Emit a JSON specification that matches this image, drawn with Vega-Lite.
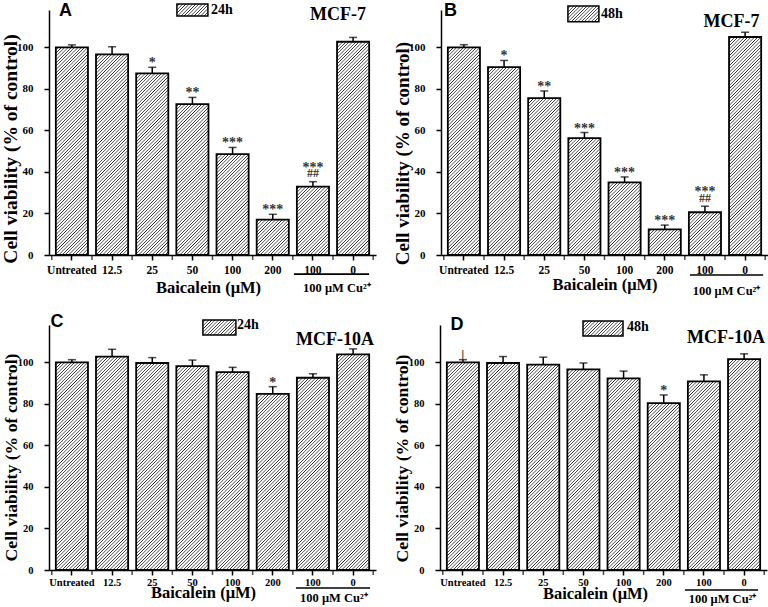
{
  "$schema": "https://vega.github.io/schema/vega-lite/v6.json",
  "background": "white",
  "padding": {"left": 0, "top": 1, "right": 0, "bottom": 0},
  "params": [{"name": "hatch", "value": [
{"offset":0,"color":"#fff"},{"offset":0.005,"color":"#fff"},{"offset":0.0075,"color":"#222"},
{"offset":0.01,"color":"#fff"},{"offset":0.015,"color":"#fff"},{"offset":0.0175,"color":"#222"},
{"offset":0.02,"color":"#fff"},{"offset":0.025,"color":"#fff"},{"offset":0.0275,"color":"#222"},
{"offset":0.03,"color":"#fff"},{"offset":0.035,"color":"#fff"},{"offset":0.0375,"color":"#222"},
{"offset":0.04,"color":"#fff"},{"offset":0.045,"color":"#fff"},{"offset":0.0475,"color":"#222"},
{"offset":0.05,"color":"#fff"},{"offset":0.055,"color":"#fff"},{"offset":0.0575,"color":"#222"},
{"offset":0.06,"color":"#fff"},{"offset":0.065,"color":"#fff"},{"offset":0.0675,"color":"#222"},
{"offset":0.07,"color":"#fff"},{"offset":0.075,"color":"#fff"},{"offset":0.0775,"color":"#222"},
{"offset":0.08,"color":"#fff"},{"offset":0.085,"color":"#fff"},{"offset":0.0875,"color":"#222"},
{"offset":0.09,"color":"#fff"},{"offset":0.095,"color":"#fff"},{"offset":0.0975,"color":"#222"},
{"offset":0.10,"color":"#fff"},{"offset":0.105,"color":"#fff"},{"offset":0.1075,"color":"#222"},
{"offset":0.11,"color":"#fff"},{"offset":0.115,"color":"#fff"},{"offset":0.1175,"color":"#222"},
{"offset":0.12,"color":"#fff"},{"offset":0.125,"color":"#fff"},{"offset":0.1275,"color":"#222"},
{"offset":0.13,"color":"#fff"},{"offset":0.135,"color":"#fff"},{"offset":0.1375,"color":"#222"},
{"offset":0.14,"color":"#fff"},{"offset":0.145,"color":"#fff"},{"offset":0.1475,"color":"#222"},
{"offset":0.15,"color":"#fff"},{"offset":0.155,"color":"#fff"},{"offset":0.1575,"color":"#222"},
{"offset":0.16,"color":"#fff"},{"offset":0.165,"color":"#fff"},{"offset":0.1675,"color":"#222"},
{"offset":0.17,"color":"#fff"},{"offset":0.175,"color":"#fff"},{"offset":0.1775,"color":"#222"},
{"offset":0.18,"color":"#fff"},{"offset":0.185,"color":"#fff"},{"offset":0.1875,"color":"#222"},
{"offset":0.19,"color":"#fff"},{"offset":0.195,"color":"#fff"},{"offset":0.1975,"color":"#222"},
{"offset":0.20,"color":"#fff"},{"offset":0.205,"color":"#fff"},{"offset":0.2075,"color":"#222"},
{"offset":0.21,"color":"#fff"},{"offset":0.215,"color":"#fff"},{"offset":0.2175,"color":"#222"},
{"offset":0.22,"color":"#fff"},{"offset":0.225,"color":"#fff"},{"offset":0.2275,"color":"#222"},
{"offset":0.23,"color":"#fff"},{"offset":0.235,"color":"#fff"},{"offset":0.2375,"color":"#222"},
{"offset":0.24,"color":"#fff"},{"offset":0.245,"color":"#fff"},{"offset":0.2475,"color":"#222"},
{"offset":0.25,"color":"#fff"},{"offset":0.255,"color":"#fff"},{"offset":0.2575,"color":"#222"},
{"offset":0.26,"color":"#fff"},{"offset":0.265,"color":"#fff"},{"offset":0.2675,"color":"#222"},
{"offset":0.27,"color":"#fff"},{"offset":0.275,"color":"#fff"},{"offset":0.2775,"color":"#222"},
{"offset":0.28,"color":"#fff"},{"offset":0.285,"color":"#fff"},{"offset":0.2875,"color":"#222"},
{"offset":0.29,"color":"#fff"},{"offset":0.295,"color":"#fff"},{"offset":0.2975,"color":"#222"},
{"offset":0.30,"color":"#fff"},{"offset":0.305,"color":"#fff"},{"offset":0.3075,"color":"#222"},
{"offset":0.31,"color":"#fff"},{"offset":0.315,"color":"#fff"},{"offset":0.3175,"color":"#222"},
{"offset":0.32,"color":"#fff"},{"offset":0.325,"color":"#fff"},{"offset":0.3275,"color":"#222"},
{"offset":0.33,"color":"#fff"},{"offset":0.335,"color":"#fff"},{"offset":0.3375,"color":"#222"},
{"offset":0.34,"color":"#fff"},{"offset":0.345,"color":"#fff"},{"offset":0.3475,"color":"#222"},
{"offset":0.35,"color":"#fff"},{"offset":0.355,"color":"#fff"},{"offset":0.3575,"color":"#222"},
{"offset":0.36,"color":"#fff"},{"offset":0.365,"color":"#fff"},{"offset":0.3675,"color":"#222"},
{"offset":0.37,"color":"#fff"},{"offset":0.375,"color":"#fff"},{"offset":0.3775,"color":"#222"},
{"offset":0.38,"color":"#fff"},{"offset":0.385,"color":"#fff"},{"offset":0.3875,"color":"#222"},
{"offset":0.39,"color":"#fff"},{"offset":0.395,"color":"#fff"},{"offset":0.3975,"color":"#222"},
{"offset":0.40,"color":"#fff"},{"offset":0.405,"color":"#fff"},{"offset":0.4075,"color":"#222"},
{"offset":0.41,"color":"#fff"},{"offset":0.415,"color":"#fff"},{"offset":0.4175,"color":"#222"},
{"offset":0.42,"color":"#fff"},{"offset":0.425,"color":"#fff"},{"offset":0.4275,"color":"#222"},
{"offset":0.43,"color":"#fff"},{"offset":0.435,"color":"#fff"},{"offset":0.4375,"color":"#222"},
{"offset":0.44,"color":"#fff"},{"offset":0.445,"color":"#fff"},{"offset":0.4475,"color":"#222"},
{"offset":0.45,"color":"#fff"},{"offset":0.455,"color":"#fff"},{"offset":0.4575,"color":"#222"},
{"offset":0.46,"color":"#fff"},{"offset":0.465,"color":"#fff"},{"offset":0.4675,"color":"#222"},
{"offset":0.47,"color":"#fff"},{"offset":0.475,"color":"#fff"},{"offset":0.4775,"color":"#222"},
{"offset":0.48,"color":"#fff"},{"offset":0.485,"color":"#fff"},{"offset":0.4875,"color":"#222"},
{"offset":0.49,"color":"#fff"},{"offset":0.495,"color":"#fff"},{"offset":0.4975,"color":"#222"},
{"offset":0.50,"color":"#fff"},{"offset":0.505,"color":"#fff"},{"offset":0.5075,"color":"#222"},
{"offset":0.51,"color":"#fff"},{"offset":0.515,"color":"#fff"},{"offset":0.5175,"color":"#222"},
{"offset":0.52,"color":"#fff"},{"offset":0.525,"color":"#fff"},{"offset":0.5275,"color":"#222"},
{"offset":0.53,"color":"#fff"},{"offset":0.535,"color":"#fff"},{"offset":0.5375,"color":"#222"},
{"offset":0.54,"color":"#fff"},{"offset":0.545,"color":"#fff"},{"offset":0.5475,"color":"#222"},
{"offset":0.55,"color":"#fff"},{"offset":0.555,"color":"#fff"},{"offset":0.5575,"color":"#222"},
{"offset":0.56,"color":"#fff"},{"offset":0.565,"color":"#fff"},{"offset":0.5675,"color":"#222"},
{"offset":0.57,"color":"#fff"},{"offset":0.575,"color":"#fff"},{"offset":0.5775,"color":"#222"},
{"offset":0.58,"color":"#fff"},{"offset":0.585,"color":"#fff"},{"offset":0.5875,"color":"#222"},
{"offset":0.59,"color":"#fff"},{"offset":0.595,"color":"#fff"},{"offset":0.5975,"color":"#222"},
{"offset":0.60,"color":"#fff"},{"offset":0.605,"color":"#fff"},{"offset":0.6075,"color":"#222"},
{"offset":0.61,"color":"#fff"},{"offset":0.615,"color":"#fff"},{"offset":0.6175,"color":"#222"},
{"offset":0.62,"color":"#fff"},{"offset":0.625,"color":"#fff"},{"offset":0.6275,"color":"#222"},
{"offset":0.63,"color":"#fff"},{"offset":0.635,"color":"#fff"},{"offset":0.6375,"color":"#222"},
{"offset":0.64,"color":"#fff"},{"offset":0.645,"color":"#fff"},{"offset":0.6475,"color":"#222"},
{"offset":0.65,"color":"#fff"},{"offset":0.655,"color":"#fff"},{"offset":0.6575,"color":"#222"},
{"offset":0.66,"color":"#fff"},{"offset":0.665,"color":"#fff"},{"offset":0.6675,"color":"#222"},
{"offset":0.67,"color":"#fff"},{"offset":0.675,"color":"#fff"},{"offset":0.6775,"color":"#222"},
{"offset":0.68,"color":"#fff"},{"offset":0.685,"color":"#fff"},{"offset":0.6875,"color":"#222"},
{"offset":0.69,"color":"#fff"},{"offset":0.695,"color":"#fff"},{"offset":0.6975,"color":"#222"},
{"offset":0.70,"color":"#fff"},{"offset":0.705,"color":"#fff"},{"offset":0.7075,"color":"#222"},
{"offset":0.71,"color":"#fff"},{"offset":0.715,"color":"#fff"},{"offset":0.7175,"color":"#222"},
{"offset":0.72,"color":"#fff"},{"offset":0.725,"color":"#fff"},{"offset":0.7275,"color":"#222"},
{"offset":0.73,"color":"#fff"},{"offset":0.735,"color":"#fff"},{"offset":0.7375,"color":"#222"},
{"offset":0.74,"color":"#fff"},{"offset":0.745,"color":"#fff"},{"offset":0.7475,"color":"#222"},
{"offset":0.75,"color":"#fff"},{"offset":0.755,"color":"#fff"},{"offset":0.7575,"color":"#222"},
{"offset":0.76,"color":"#fff"},{"offset":0.765,"color":"#fff"},{"offset":0.7675,"color":"#222"},
{"offset":0.77,"color":"#fff"},{"offset":0.775,"color":"#fff"},{"offset":0.7775,"color":"#222"},
{"offset":0.78,"color":"#fff"},{"offset":0.785,"color":"#fff"},{"offset":0.7875,"color":"#222"},
{"offset":0.79,"color":"#fff"}
  ]}],
  "datasets": {
    "A": [
      {"cat": "Untreated", "v": 100, "hi": 101.2, "sig": "", "sig2": ""},
      {"cat": "12.5", "v": 96.6, "hi": 100.3, "sig": "", "sig2": ""},
      {"cat": "25", "v": 87.5, "hi": 90.4, "sig": "*", "sig2": ""},
      {"cat": "50", "v": 72.7, "hi": 75.9, "sig": "**", "sig2": ""},
      {"cat": "100", "v": 48.6, "hi": 51.8, "sig": "***", "sig2": ""},
      {"cat": "200", "v": 17.0, "hi": 19.6, "sig": "***", "sig2": ""},
      {"cat": "100 ", "v": 32.9, "hi": 35.3, "sig": "***", "sig2": "##"},
      {"cat": "0", "v": 102.7, "hi": 104.8, "sig": "", "sig2": ""}
    ],
    "B": [
      {"cat": "Untreated", "v": 100, "hi": 101.3, "sig": "", "sig2": ""},
      {"cat": "12.5", "v": 90.5, "hi": 93.7, "sig": "*", "sig2": ""},
      {"cat": "25", "v": 75.6, "hi": 79.0, "sig": "**", "sig2": ""},
      {"cat": "50", "v": 56.3, "hi": 59.0, "sig": "***", "sig2": ""},
      {"cat": "100", "v": 35.0, "hi": 37.6, "sig": "***", "sig2": ""},
      {"cat": "200", "v": 12.3, "hi": 14.4, "sig": "***", "sig2": ""},
      {"cat": "100 ", "v": 20.6, "hi": 23.5, "sig": "***", "sig2": "##"},
      {"cat": "0", "v": 105.0, "hi": 107.3, "sig": "", "sig2": ""}
    ],
    "C": [
      {"cat": "Untreated", "v": 100, "hi": 101.3, "sig": "", "sig2": ""},
      {"cat": "12.5", "v": 102.8, "hi": 106.3, "sig": "", "sig2": ""},
      {"cat": "25", "v": 99.7, "hi": 102.3, "sig": "", "sig2": ""},
      {"cat": "50", "v": 98.2, "hi": 101.1, "sig": "", "sig2": ""},
      {"cat": "100", "v": 95.3, "hi": 97.6, "sig": "", "sig2": ""},
      {"cat": "200", "v": 84.8, "hi": 88.3, "sig": "*", "sig2": ""},
      {"cat": "100 ", "v": 92.6, "hi": 94.5, "sig": "", "sig2": ""},
      {"cat": "0", "v": 103.9, "hi": 106.5, "sig": "", "sig2": ""}
    ],
    "D": [
      {"cat": "Untreated", "v": 100, "hi": 101.3, "sig": "|", "sig2": ""},
      {"cat": "12.5", "v": 99.7, "hi": 102.8, "sig": "", "sig2": ""},
      {"cat": "25", "v": 98.9, "hi": 102.5, "sig": "", "sig2": ""},
      {"cat": "50", "v": 96.6, "hi": 99.7, "sig": "", "sig2": ""},
      {"cat": "100", "v": 92.3, "hi": 95.8, "sig": "", "sig2": ""},
      {"cat": "200", "v": 80.4, "hi": 84.3, "sig": "*", "sig2": ""},
      {"cat": "100 ", "v": 90.8, "hi": 94.0, "sig": "", "sig2": ""},
      {"cat": "0", "v": 101.6, "hi": 104.1, "sig": "", "sig2": ""}
    ]
  },
  "spacing": 15,
  "vconcat": [
    {"hconcat": [
      {"width": 327, "height": 245, "data": {"name": "A"},
       "layer": [
         {"mark": {"type": "bar", "stroke": "#000", "strokeWidth": 1.8,
            "fill": {"expr": "{gradient: 'linear', x1: 0, y1: 0, x2: 330*32.1/(1030.4 + pow(datum.v*2.0763, 2)), y2: 330*datum.v*2.0763/(1030.4 + pow(datum.v*2.0763, 2)), stops: hatch}"}},
          "encoding": {
            "x": {"field": "cat", "type": "nominal", "sort": null,
              "scale": {"domain": ["Untreated", "12.5", "25", "50", "100", "200", "100 ", "0"], "paddingInner": 0.2, "paddingOuter": 0.17},
              "axis": {"title": "Baicalein (μM)", "labelAngle": 0, "tickSize": 5, "labelPadding": 4, "labelFontSize": 11.5, "titleFontSize": 16.5, "titleX": 159, "titleY": 32, "titleBaseline": "middle"}},
            "y": {"field": "v", "type": "quantitative", "stack": null, "scale": {"domain": [0, 118], "nice": false},
              "axis": {"title": "Cell viability (% of control)", "values": [0, 10, 20, 30, 40, 50, 60, 70, 80, 90, 100, 110],
                "labelExpr": "datum.value % 20 == 0 ? datum.label : ''",
                "tickSize": {"condition": {"test": "datum.value % 20 == 0", "value": 5}, "value": 3},
                "labelPadding": 11, "titlePadding": -4, "labelFontSize": 11, "titleFontSize": 19.5, "titleY": 138.5}}}},
         {"mark": {"type": "tick", "color": "#000", "thickness": 1.5, "size": 5, "orient": "vertical", "xOffset": -20.1},
          "encoding": {"x": {"field": "cat", "type": "nominal", "sort": null}, "y": {"datum": -1.2, "type": "quantitative"}}},
         {"data": {"values": [{"t": "end"}]},
          "mark": {"type": "tick", "color": "#000", "thickness": 1.5, "size": 5, "orient": "vertical", "xOffset": 20.1},
          "encoding": {"x": {"datum": "0"}, "y": {"datum": -1.2, "type": "quantitative"}}},
         {"mark": {"type": "rule", "color": "#000", "strokeWidth": 1.5},
          "encoding": {"x": {"field": "cat", "type": "nominal", "sort": null}, "y": {"field": "v", "type": "quantitative"}, "y2": {"field": "hi"}}},
         {"mark": {"type": "tick", "color": "#000", "thickness": 1.5, "size": 8, "orient": "horizontal"},
          "encoding": {"x": {"field": "cat", "type": "nominal", "sort": null}, "y": {"field": "hi", "type": "quantitative"}}},
         {"mark": {"type": "text", "font": "Liberation Serif", "fontWeight": "bold", "fontSize": 14, "color": "#333", "baseline": "alphabetic", "dy": {"expr": "datum.sig2 != '' ? -10 : 0"}},
          "encoding": {"x": {"field": "cat", "type": "nominal", "sort": null}, "y": {"field": "hi", "type": "quantitative"}, "text": {"field": "sig"}}},
         {"mark": {"type": "text", "font": "Liberation Serif", "fontWeight": "bold", "fontSize": 12, "color": "#333", "baseline": "alphabetic", "dy": -4.5},
          "encoding": {"x": {"field": "cat", "type": "nominal", "sort": null}, "y": {"field": "hi", "type": "quantitative"}, "text": {"field": "sig2"}}},
         {"data": {"values": [{"t": "A"}]},
          "mark": {"type": "text", "font": "Liberation Sans", "fontWeight": "bold", "fontSize": 18, "color": "#000", "baseline": "middle", "dx": -6.4},
          "encoding": {"x": {"datum": "Untreated"}, "y": {"datum": 117.7, "type": "quantitative"}, "text": {"field": "t"}}},
         {"data": {"values": [{"t": "MCF-7"}]},
          "mark": {"type": "text", "font": "Liberation Serif", "fontWeight": "bold", "fontSize": 18, "color": "#000", "baseline": "middle", "dx": -15},
          "encoding": {"x": {"datum": "0"}, "y": {"datum": 115.6, "type": "quantitative"}, "text": {"field": "t"}}},
         {"data": {"values": [{"t": "24h"}]},
          "mark": {"type": "bar", "stroke": "#000", "strokeWidth": 1.5, "width": 31, "xOffset": 0,
            "fill": {"expr": "{gradient: 'linear', x1: 0, y1: 0, x2: 9.3, y2: 3.54, stops: hatch}"}},
          "encoding": {"x": {"datum": "50"}, "y": {"datum": 120.9, "type": "quantitative"}, "y2": {"datum": 115.1}}},
         {"data": {"values": [{"t": "24h"}]},
          "mark": {"type": "text", "font": "Liberation Serif", "fontWeight": "bold", "fontSize": 14, "color": "#000", "baseline": "middle", "align": "left", "dx": 18.6},
          "encoding": {"x": {"datum": "50"}, "y": {"datum": 118, "type": "quantitative"}, "text": {"field": "t"}}},
         {"data": {"values": [{"t": "line"}]},
          "mark": {"type": "rule", "color": "#000", "strokeWidth": 1.6, "xOffset": -19, "x2Offset": 16},
          "encoding": {"x": {"datum": "100 "}, "x2": {"datum": "0"}, "y": {"datum": -9.2, "type": "quantitative"}}},
         {"data": {"values": [{"t": "100 μM Cu²⁺"}]},
          "mark": {"type": "text", "font": "Liberation Serif", "fontWeight": "bold", "fontSize": 12.5, "color": "#000", "baseline": "middle", "dx": 24},
          "encoding": {"x": {"datum": "100 "}, "y": {"datum": -15.9, "type": "quantitative"}, "text": {"field": "t"}}}
       ]},
      {"width": 327, "height": 245, "data": {"name": "B"},
       "layer": [
         {"mark": {"type": "bar", "stroke": "#000", "strokeWidth": 1.8,
            "fill": {"expr": "{gradient: 'linear', x1: 0, y1: 0, x2: 330*32.1/(1030.4 + pow(datum.v*2.0763, 2)), y2: 330*datum.v*2.0763/(1030.4 + pow(datum.v*2.0763, 2)), stops: hatch}"}},
          "encoding": {
            "x": {"field": "cat", "type": "nominal", "sort": null,
              "scale": {"domain": ["Untreated", "12.5", "25", "50", "100", "200", "100 ", "0"], "paddingInner": 0.2, "paddingOuter": 0.17},
              "axis": {"title": "Baicalein (μM)", "labelAngle": 0, "tickSize": 5, "labelPadding": 4, "labelFontSize": 11.5, "titleFontSize": 16.5, "titleX": 163.5, "titleY": 29, "titleBaseline": "middle"}},
            "y": {"field": "v", "type": "quantitative", "stack": null, "scale": {"domain": [0, 118], "nice": false},
              "axis": {"title": "Cell viability (% of control)", "values": [0, 10, 20, 30, 40, 50, 60, 70, 80, 90, 100, 110],
                "labelExpr": "datum.value % 20 == 0 ? datum.label : ''",
                "tickSize": {"condition": {"test": "datum.value % 20 == 0", "value": 5}, "value": 3},
                "labelPadding": 11, "titlePadding": -4, "labelFontSize": 11, "titleFontSize": 19, "titleY": 143}}}},
         {"mark": {"type": "tick", "color": "#000", "thickness": 1.5, "size": 5, "orient": "vertical", "xOffset": -20.1},
          "encoding": {"x": {"field": "cat", "type": "nominal", "sort": null}, "y": {"datum": -1.2, "type": "quantitative"}}},
         {"data": {"values": [{"t": "end"}]},
          "mark": {"type": "tick", "color": "#000", "thickness": 1.5, "size": 5, "orient": "vertical", "xOffset": 20.1},
          "encoding": {"x": {"datum": "0"}, "y": {"datum": -1.2, "type": "quantitative"}}},
         {"mark": {"type": "rule", "color": "#000", "strokeWidth": 1.5},
          "encoding": {"x": {"field": "cat", "type": "nominal", "sort": null}, "y": {"field": "v", "type": "quantitative"}, "y2": {"field": "hi"}}},
         {"mark": {"type": "tick", "color": "#000", "thickness": 1.5, "size": 8, "orient": "horizontal"},
          "encoding": {"x": {"field": "cat", "type": "nominal", "sort": null}, "y": {"field": "hi", "type": "quantitative"}}},
         {"mark": {"type": "text", "font": "Liberation Serif", "fontWeight": "bold", "fontSize": 14, "color": "#333", "baseline": "alphabetic", "dy": {"expr": "datum.sig2 != '' ? -10 : 0"}},
          "encoding": {"x": {"field": "cat", "type": "nominal", "sort": null}, "y": {"field": "hi", "type": "quantitative"}, "text": {"field": "sig"}}},
         {"mark": {"type": "text", "font": "Liberation Serif", "fontWeight": "bold", "fontSize": 12, "color": "#333", "baseline": "alphabetic", "dy": -4.5},
          "encoding": {"x": {"field": "cat", "type": "nominal", "sort": null}, "y": {"field": "hi", "type": "quantitative"}, "text": {"field": "sig2"}}},
         {"data": {"values": [{"t": "B"}]},
          "mark": {"type": "text", "font": "Liberation Sans", "fontWeight": "bold", "fontSize": 18, "color": "#000", "baseline": "middle", "dx": -13.4},
          "encoding": {"x": {"datum": "Untreated"}, "y": {"datum": 117.7, "type": "quantitative"}, "text": {"field": "t"}}},
         {"data": {"values": [{"t": "MCF-7"}]},
          "mark": {"type": "text", "font": "Liberation Serif", "fontWeight": "bold", "fontSize": 18, "color": "#000", "baseline": "middle", "dx": -13.5},
          "encoding": {"x": {"datum": "0"}, "y": {"datum": 112.4, "type": "quantitative"}, "text": {"field": "t"}}},
         {"data": {"values": [{"t": "48h"}]},
          "mark": {"type": "bar", "stroke": "#000", "strokeWidth": 1.5, "width": 31, "xOffset": -1,
            "fill": {"expr": "{gradient: 'linear', x1: 0, y1: 0, x2: 8.5, y2: 4.28, stops: hatch}"}},
          "encoding": {"x": {"datum": "50"}, "y": {"datum": 119.9, "type": "quantitative"}, "y2": {"datum": 112.4}}},
         {"data": {"values": [{"t": "48h"}]},
          "mark": {"type": "text", "font": "Liberation Serif", "fontWeight": "bold", "fontSize": 14, "color": "#000", "baseline": "middle", "align": "left", "dx": 16.6},
          "encoding": {"x": {"datum": "50"}, "y": {"datum": 116, "type": "quantitative"}, "text": {"field": "t"}}},
         {"data": {"values": [{"t": "line"}]},
          "mark": {"type": "rule", "color": "#000", "strokeWidth": 1.6, "xOffset": -15, "x2Offset": 18},
          "encoding": {"x": {"datum": "100 "}, "x2": {"datum": "0"}, "y": {"datum": -9.6, "type": "quantitative"}}},
         {"data": {"values": [{"t": "100 μM Cu²⁺"}]},
          "mark": {"type": "text", "font": "Liberation Serif", "fontWeight": "bold", "fontSize": 12.5, "color": "#000", "baseline": "middle", "dx": 21.6},
          "encoding": {"x": {"datum": "100 "}, "y": {"datum": -17.3, "type": "quantitative"}, "text": {"field": "t"}}}
       ]}
    ], "spacing": 17},
    {"hconcat": [
      {"width": 327, "height": 245, "data": {"name": "C"},
       "layer": [
         {"mark": {"type": "bar", "stroke": "#000", "strokeWidth": 1.8,
            "fill": {"expr": "{gradient: 'linear', x1: 0, y1: 0, x2: 330*32.1/(1030.4 + pow(datum.v*2.0763, 2)), y2: 330*datum.v*2.0763/(1030.4 + pow(datum.v*2.0763, 2)), stops: hatch}"}},
          "encoding": {
            "x": {"field": "cat", "type": "nominal", "sort": null,
              "scale": {"domain": ["Untreated", "12.5", "25", "50", "100", "200", "100 ", "0"], "paddingInner": 0.2, "paddingOuter": 0.17},
              "axis": {"title": "Baicalein (μM)", "labelAngle": 0, "tickSize": 5, "labelPadding": 2, "labelFontSize": 10.5, "titleFontSize": 16.5, "titleX": 154, "titleY": 22, "titleBaseline": "middle"}},
            "y": {"field": "v", "type": "quantitative", "stack": null, "scale": {"domain": [0, 118], "nice": false},
              "axis": {"title": "Cell viability (% of control)", "values": [0, 10, 20, 30, 40, 50, 60, 70, 80, 90, 100, 110],
                "labelExpr": "datum.value % 20 == 0 ? datum.label : ''",
                "tickSize": {"condition": {"test": "datum.value % 20 == 0", "value": 5}, "value": 3},
                "labelPadding": 11, "titlePadding": -3, "labelFontSize": 10.5, "titleFontSize": 17.7, "titleY": 132}}}},
         {"mark": {"type": "tick", "color": "#000", "thickness": 1.5, "size": 5, "orient": "vertical", "xOffset": -20.1},
          "encoding": {"x": {"field": "cat", "type": "nominal", "sort": null}, "y": {"datum": -1.2, "type": "quantitative"}}},
         {"data": {"values": [{"t": "end"}]},
          "mark": {"type": "tick", "color": "#000", "thickness": 1.5, "size": 5, "orient": "vertical", "xOffset": 20.1},
          "encoding": {"x": {"datum": "0"}, "y": {"datum": -1.2, "type": "quantitative"}}},
         {"mark": {"type": "rule", "color": "#000", "strokeWidth": 1.5},
          "encoding": {"x": {"field": "cat", "type": "nominal", "sort": null}, "y": {"field": "v", "type": "quantitative"}, "y2": {"field": "hi"}}},
         {"mark": {"type": "tick", "color": "#000", "thickness": 1.5, "size": 8, "orient": "horizontal"},
          "encoding": {"x": {"field": "cat", "type": "nominal", "sort": null}, "y": {"field": "hi", "type": "quantitative"}}},
         {"mark": {"type": "text", "font": "Liberation Serif", "fontWeight": "bold", "fontSize": 14, "color": "#333", "baseline": "alphabetic", "dy": 0},
          "encoding": {"x": {"field": "cat", "type": "nominal", "sort": null}, "y": {"field": "hi", "type": "quantitative"}, "text": {"field": "sig"}}},
         {"data": {"values": [{"t": "C"}]},
          "mark": {"type": "text", "font": "Liberation Sans", "fontWeight": "bold", "fontSize": 18, "color": "#000", "baseline": "middle", "dx": -14.9},
          "encoding": {"x": {"datum": "Untreated"}, "y": {"datum": 119.4, "type": "quantitative"}, "text": {"field": "t"}}},
         {"data": {"values": [{"t": "MCF-10A"}]},
          "mark": {"type": "text", "font": "Liberation Serif", "fontWeight": "bold", "fontSize": 18, "color": "#000", "baseline": "middle", "dx": -18},
          "encoding": {"x": {"datum": "0"}, "y": {"datum": 110.8, "type": "quantitative"}, "text": {"field": "t"}}},
         {"data": {"values": [{"t": "24h"}]},
          "mark": {"type": "bar", "stroke": "#000", "strokeWidth": 1.5, "width": 33, "xOffset": 27,
            "fill": {"expr": "{gradient: 'linear', x1: 0, y1: 0, x2: 8.29, y2: 3.77, stops: hatch}"}},
          "encoding": {"x": {"datum": "50"}, "y": {"datum": 120.4, "type": "quantitative"}, "y2": {"datum": 113.2}}},
         {"data": {"values": [{"t": "24h"}]},
          "mark": {"type": "text", "font": "Liberation Serif", "fontWeight": "bold", "fontSize": 14, "color": "#000", "baseline": "middle", "align": "left", "dx": 44.6},
          "encoding": {"x": {"datum": "50"}, "y": {"datum": 118.1, "type": "quantitative"}, "text": {"field": "t"}}},
         {"data": {"values": [{"t": "line"}]},
          "mark": {"type": "rule", "color": "#000", "strokeWidth": 1.6, "xOffset": -17, "x2Offset": 17},
          "encoding": {"x": {"datum": "100 "}, "x2": {"datum": "0"}, "y": {"datum": -8.7, "type": "quantitative"}}},
         {"data": {"values": [{"t": "100 μM Cu²⁺"}]},
          "mark": {"type": "text", "font": "Liberation Serif", "fontWeight": "bold", "fontSize": 12.5, "color": "#000", "baseline": "middle", "dx": 21},
          "encoding": {"x": {"datum": "100 "}, "y": {"datum": -13.5, "type": "quantitative"}, "text": {"field": "t"}}}
       ]},
      {"width": 327, "height": 245, "data": {"name": "D"},
       "layer": [
         {"mark": {"type": "bar", "stroke": "#000", "strokeWidth": 1.8,
            "fill": {"expr": "{gradient: 'linear', x1: 0, y1: 0, x2: 330*32.1/(1030.4 + pow(datum.v*2.0763, 2)), y2: 330*datum.v*2.0763/(1030.4 + pow(datum.v*2.0763, 2)), stops: hatch}"}},
          "encoding": {
            "x": {"field": "cat", "type": "nominal", "sort": null,
              "scale": {"domain": ["Untreated", "12.5", "25", "50", "100", "200", "100 ", "0"], "paddingInner": 0.2, "paddingOuter": 0.17},
              "axis": {"title": "Baicalein (μM)", "labelAngle": 0, "tickSize": 5, "labelPadding": 2, "labelFontSize": 10.5, "titleFontSize": 16.5, "titleX": 155, "titleY": 23, "titleBaseline": "middle"}},
            "y": {"field": "v", "type": "quantitative", "stack": null, "scale": {"domain": [0, 118], "nice": false},
              "axis": {"title": "Cell viability (% of control)", "values": [0, 10, 20, 30, 40, 50, 60, 70, 80, 90, 100, 110],
                "labelExpr": "datum.value % 20 == 0 ? datum.label : ''",
                "tickSize": {"condition": {"test": "datum.value % 20 == 0", "value": 5}, "value": 3},
                "labelPadding": 11, "titlePadding": -3, "labelFontSize": 10.5, "titleFontSize": 17.7, "titleY": 133}}}},
         {"mark": {"type": "tick", "color": "#000", "thickness": 1.5, "size": 5, "orient": "vertical", "xOffset": -20.1},
          "encoding": {"x": {"field": "cat", "type": "nominal", "sort": null}, "y": {"datum": -1.2, "type": "quantitative"}}},
         {"data": {"values": [{"t": "end"}]},
          "mark": {"type": "tick", "color": "#000", "thickness": 1.5, "size": 5, "orient": "vertical", "xOffset": 20.1},
          "encoding": {"x": {"datum": "0"}, "y": {"datum": -1.2, "type": "quantitative"}}},
         {"mark": {"type": "rule", "color": "#000", "strokeWidth": 1.5},
          "encoding": {"x": {"field": "cat", "type": "nominal", "sort": null}, "y": {"field": "v", "type": "quantitative"}, "y2": {"field": "hi"}}},
         {"mark": {"type": "tick", "color": "#000", "thickness": 1.5, "size": 8, "orient": "horizontal"},
          "encoding": {"x": {"field": "cat", "type": "nominal", "sort": null}, "y": {"field": "hi", "type": "quantitative"}}},
         {"mark": {"type": "text", "font": "Liberation Serif", "fontWeight": "bold", "fontSize": 14, "color": "#333", "baseline": "alphabetic", "dy": 0},
          "encoding": {"x": {"field": "cat", "type": "nominal", "sort": null}, "y": {"field": "hi", "type": "quantitative"}, "text": {"field": "sig"}}},
         {"data": {"values": [{"t": "D"}]},
          "mark": {"type": "text", "font": "Liberation Sans", "fontWeight": "bold", "fontSize": 18, "color": "#000", "baseline": "middle", "dx": -5.9},
          "encoding": {"x": {"datum": "Untreated"}, "y": {"datum": 118.2, "type": "quantitative"}, "text": {"field": "t"}}},
         {"data": {"values": [{"t": "MCF-10A"}]},
          "mark": {"type": "text", "font": "Liberation Serif", "fontWeight": "bold", "fontSize": 18, "color": "#000", "baseline": "middle", "dx": -18},
          "encoding": {"x": {"datum": "0"}, "y": {"datum": 111.7, "type": "quantitative"}, "text": {"field": "t"}}},
         {"data": {"values": [{"t": "48h"}]},
          "mark": {"type": "bar", "stroke": "#000", "strokeWidth": 1.5, "width": 40, "xOffset": 19.6,
            "fill": {"expr": "{gradient: 'linear', x1: 0, y1: 0, x2: 7.23, y2: 2.71, stops: hatch}"}},
          "encoding": {"x": {"datum": "50"}, "y": {"datum": 119.9, "type": "quantitative"}, "y2": {"datum": 112.7}}},
         {"data": {"values": [{"t": "48h"}]},
          "mark": {"type": "text", "font": "Liberation Serif", "fontWeight": "bold", "fontSize": 14, "color": "#000", "baseline": "middle", "align": "left", "dx": 43.6},
          "encoding": {"x": {"datum": "50"}, "y": {"datum": 117, "type": "quantitative"}, "text": {"field": "t"}}},
         {"data": {"values": [{"t": "line"}]},
          "mark": {"type": "rule", "color": "#000", "strokeWidth": 1.6, "xOffset": -19, "x2Offset": 14},
          "encoding": {"x": {"datum": "100 "}, "x2": {"datum": "0"}, "y": {"datum": -9.6, "type": "quantitative"}}},
         {"data": {"values": [{"t": "100 μM Cu²⁺"}]},
          "mark": {"type": "text", "font": "Liberation Serif", "fontWeight": "bold", "fontSize": 12.5, "color": "#000", "baseline": "middle", "dx": 18.6},
          "encoding": {"x": {"datum": "100 "}, "y": {"datum": -14, "type": "quantitative"}, "text": {"field": "t"}}}
       ]}
    ], "spacing": 17}
  ],
  "config": {
    "view": {"stroke": null},
    "axis": {"domainColor": "#000", "domainWidth": 1.5, "tickColor": "#000", "tickWidth": 1.5, "grid": false,
      "labelFont": "Liberation Serif", "labelFontWeight": "bold", "labelColor": "#000",
      "titleFont": "Liberation Serif", "titleFontWeight": "bold", "titleColor": "#000",
      "labelOverlap": false, "labelFlush": false, "labelBound": false}
  }
}
